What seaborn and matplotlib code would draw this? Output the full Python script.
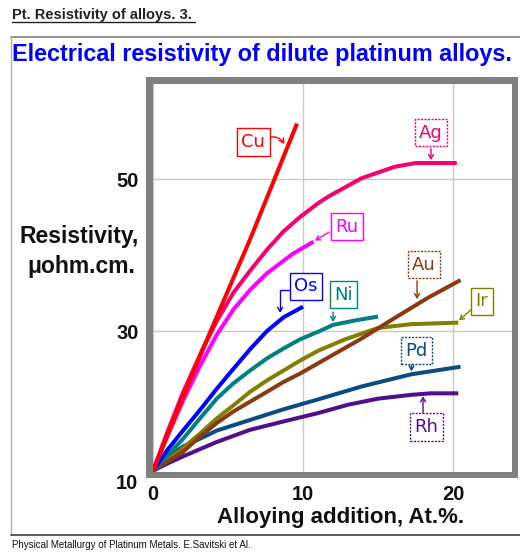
import matplotlib
matplotlib.use("Agg")
import matplotlib.pyplot as plt
import seaborn as sns
import numpy as np
import pandas as pd
from matplotlib.patches import Rectangle
from matplotlib.lines import Line2D

# ---------------- data ----------------
cu_x = [0, 2.0, 3.8, 6.5, 9.6]
cu_y = [11.6, 21.3, 29.8, 42.2, 57.3]

ag_x = [0, 0.9, 2.0, 3.35, 4.25, 5.35, 6.5, 7.6, 8.7, 9.8, 11.0, 11.7, 13.9, 16.1, 17.5, 20.25]
ag_y = [11.6, 16.4, 21.9, 27.8, 31.3, 35.0, 38.0, 40.7, 43.1, 45.0, 46.8, 47.7, 50.1, 51.6, 52.1, 52.1]

ru_x = [0, 0.9, 2.0, 3.13, 4.25, 5.35, 6.47, 7.6, 9.35, 10.7]
ru_y = [11.6, 15.9, 20.8, 25.4, 29.5, 32.8, 35.4, 37.6, 40.2, 41.75]

os_x = [0, 0.9, 2.0, 3.13, 4.25, 5.35, 6.47, 7.6, 8.7, 10.0]
os_y = [11.6, 14.2, 16.9, 19.6, 22.4, 25.0, 27.6, 30.0, 31.8, 33.2]

ni_x = [0, 1, 2, 3.13, 4.25, 5.35, 6.47, 7.6, 8.7, 9.8, 11.0, 12.0, 13.5, 15.0]
ni_y = [11.6, 13.7, 15.8, 18.5, 21.1, 23.1, 24.8, 26.4, 27.7, 28.9, 29.9, 30.8, 31.4, 31.9]

au_x = [0, 2.0, 3.13, 4.25, 5.35, 6.47, 7.6, 8.7, 9.8, 11.0, 13.9, 16.1, 18.35, 20.5]
au_y = [11.6, 14.1, 16.1, 17.9, 19.4, 20.7, 22.0, 23.3, 24.4, 25.75, 29.0, 31.7, 34.4, 36.7]

ir_x = [0, 2.0, 3.13, 4.25, 5.35, 6.47, 7.6, 8.7, 9.8, 11.0, 12.8, 15.0, 17.2, 20.35]
ir_y = [11.6, 14.6, 16.5, 18.5, 20.2, 22.0, 23.5, 24.8, 26.1, 27.4, 28.9, 30.4, 30.9, 31.1]

pd_x = [0, 1, 2, 3.1, 4.25, 6.47, 8.7, 11.0, 13.9, 17.2, 20.5]
pd_y = [11.6, 13.4, 14.8, 15.8, 16.9, 18.3, 19.7, 21.0, 22.7, 24.3, 25.3]

rh_x = [0, 1, 2, 4.25, 6.47, 8.7, 11.0, 13.0, 15.0, 17.2, 18.5, 20.35]
rh_y = [11.6, 12.6, 13.5, 15.4, 17.0, 18.1, 19.2, 20.3, 21.1, 21.6, 21.8, 21.8]

alloys = ["Rh", "Pd", "Ir", "Au", "Ni", "Os", "Ru", "Ag", "Cu"]
series = {"Cu": (cu_x, cu_y), "Ag": (ag_x, ag_y), "Ru": (ru_x, ru_y),
          "Os": (os_x, os_y), "Ni": (ni_x, ni_y), "Au": (au_x, au_y),
          "Ir": (ir_x, ir_y), "Pd": (pd_x, pd_y), "Rh": (rh_x, rh_y)}

x_ticks = [0, 10, 20]
y_ticks = [30, 50]

colors = {"Cu": "#FF0000", "Ag": "#F5006E", "Ru": "#FF00FF", "Os": "#0000FF",
          "Ni": "#008080", "Au": "#8A3A10", "Ir": "#808000", "Pd": "#0A4C80",
          "Rh": "#50108A"}

# ---------------- figure ----------------
W, H = 520, 556
sns.set_style("white")
plt.rcParams["font.family"] = ["Liberation Sans", "DejaVu Sans"]

fig = plt.figure(figsize=(W / 100, H / 100), dpi=100)


def fx(px):
    return px / W


def fy(py):
    return 1 - py / H


ax = fig.add_axes([fx(153), fy(472), (512 - 153) / W, (472 - 84) / H])
ax.set_facecolor("white")

# gray thick frame behind the axes
fig.add_artist(Rectangle((fx(146), fy(478)), (518 - 146) / W, (478 - 77) / H,
                         transform=fig.transFigure, facecolor="#808080",
                         edgecolor="none", zorder=-1))
# thin outer panel lines
fig.add_artist(Line2D([fx(11), fx(520)], [fy(37), fy(37)], color="#808080", lw=1.2))
fig.add_artist(Line2D([fx(11), fx(11)], [fy(37), fy(535)], color="#B0B0B0", lw=1.0))
fig.add_artist(Line2D([fx(11), fx(520)], [fy(535), fy(535)], color="#404040", lw=1.2))

rows = []
for name in alloys:
    xs, ys = series[name]
    for xv, yv in zip(xs, ys):
        rows.append({"alloy": name, "x": xv, "v": yv})
df = pd.DataFrame(rows)

sns.lineplot(data=df, x="x", y="v", hue="alloy", hue_order=alloys,
             palette=colors, sort=False, estimator=None, legend=False,
             lw=2.9, solid_joinstyle="round", solid_capstyle="butt", ax=ax)

ax.set_xlim(0, 23.93)
ax.set_ylim(11.45, 62.5)
ax.set_xticks(x_ticks)
ax.set_yticks(y_ticks)
ax.grid(True, color="#C8C8C8", lw=1.0)
ax.set_axisbelow(True)
for s in ax.spines.values():
    s.set_visible(False)
ax.set_xlabel("")
ax.set_ylabel("")
ax.tick_params(axis="x", length=0, pad=9.5, labelsize=14.5)
ax.tick_params(axis="y", length=0, pad=10.5, labelsize=14.5)
for lab in ax.get_xticklabels() + ax.get_yticklabels():
    lab.set_fontweight("bold")
    lab.set_color("#111111")
# the "10" label at the lower corner (below the axis floor)
ax.annotate("10", xy=(0, 10), xycoords=("axes fraction", "data"),
            xytext=(-10.5, 0), textcoords="offset points", ha="right",
            va="center", fontsize=14.5, fontweight="bold", color="#111111",
            annotation_clip=False)

# ---------------- labels with arrows ----------------
labels = [
    # name, box centre, arrow start, arrow tip, connection, dotted
    ("Cu", (6.67, 54.87), (7.73, 55.5), (8.75, 54.6), "arc3,rad=-0.35", False),
    ("Ag", (18.53, 56.1), (18.53, 54.0), (18.53, 52.5), "arc3", True),
    ("Ru", (12.93, 43.75), (11.73, 43.0), (10.8, 41.9), "arc3", False),
    ("Os", (10.2, 35.86), (9.25, 35.4), (8.47, 32.4), "angle,angleA=0,angleB=90,rad=0", False),
    ("Ni", (12.7, 34.8), (12.0, 32.5), (12.0, 31.2), "arc3", False),
    ("Au", (18.07, 38.7), (17.6, 36.6), (17.6, 34.2), "arc3", True),
    ("Ir", (21.93, 33.9), (21.2, 32.8), (20.4, 31.4), "arc3", False),
    ("Pd", (17.57, 27.43), (17.23, 25.8), (17.23, 24.7), "arc3", True),
    ("Rh", (18.23, 17.37), (18.0, 19.2), (18.0, 21.4), "arc3", True),
]
for name, ctr, start, tip, conn, dotted in labels:
    c = colors[name]
    ax.text(ctr[0], ctr[1], name, ha="center", va="center", fontsize=13,
            family=["DejaVu Sans"], color=c, zorder=6,
            bbox=dict(boxstyle="square,pad=0.25", facecolor="white",
                      edgecolor=c, lw=1.0,
                      linestyle=(0, (1.5, 1)) if dotted else "-"))
    ax.annotate("", xy=tip, xytext=start, zorder=5,
                arrowprops=dict(arrowstyle="->,head_length=0.3,head_width=0.18",
                                color=c, lw=1.0, connectionstyle=conn,
                                shrinkA=0, shrinkB=0))

# ---------------- texts ----------------
fig.text(fx(12), fy(19), "Pt. Resistivity of alloys. 3.", ha="left",
         va="baseline", fontsize=10.5, fontweight="bold", color="#222222")
fig.add_artist(Line2D([fx(12), fx(195)], [fy(21.5), fy(21.5)], color="#222222", lw=1.0))

fig.text(fx(12), fy(54), "Electrical resistivity of dilute platinum alloys.",
         ha="left", va="center", fontsize=16.8, fontweight="bold", color="#0000FF")

fig.text(fx(79), fy(237), "Resistivity,", ha="center", va="center",
         fontsize=16.5, fontweight="bold", color="#111111")
fig.text(fx(81), fy(266), "\u03bcohm.cm.", ha="center", va="center",
         fontsize=16.5, fontweight="bold", color="#111111")

fig.text(fx(341), fy(517), "Alloying addition, At.%.", ha="center", va="center",
         fontsize=16, fontweight="bold", color="#111111")

fig.text(fx(12), fy(545), "Physical Metallurgy of Platinum Metals. E.Savitski et Al.",
         ha="left", va="center", fontsize=7, color="#111111")

fig.savefig("out.png", dpi=100)
